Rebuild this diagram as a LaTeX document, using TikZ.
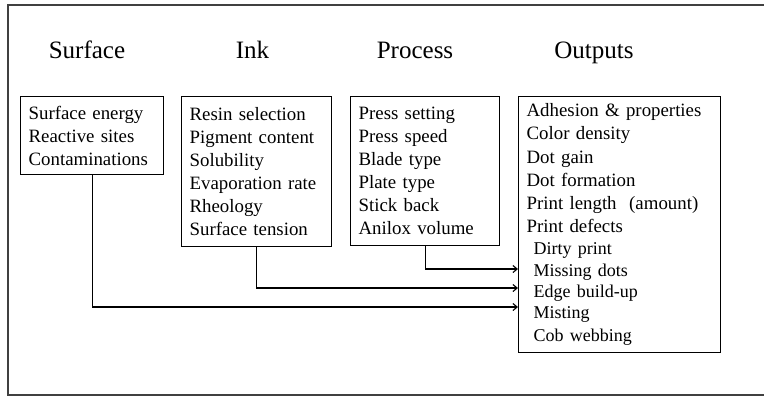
\documentclass[tikz,border=0pt]{standalone}
\usepackage{fontspec}
\setmainfont{Liberation Serif}
\usepackage{tikz}
\usetikzlibrary{arrows.meta}

\begin{document}
\begin{tikzpicture}[x=0.025cm, y=-0.025cm,
  head/.style={font=\fontsize{17.8}{20}\selectfont, anchor=base},
  listbox/.style={draw, line width=0.9pt, anchor=north west, align=left, inner xsep=0.2cm, font=\fontsize{13.4}{16.4}\selectfont},
  feed/.style={line width=0.8pt, -{Straight Barb[length=3pt,width=5pt]}}]

\useasboundingbox (0,0) rectangle (764,396);
\draw[color=black!75, line width=1pt] (8,5) rectangle (790,395);

\node[head] (hsurf) at (87,58) {Surface};
\node[head] (hink) at (252.5,58) {Ink};
\node[head] (hproc) at (415,58) {Process};
\node[head] (hout) at (594,58) {Outputs};


\node[listbox, text width=3.175cm, minimum height=1.95cm] (surf) at (20,96)
  {Surface energy\\ Reactive sites\\ Contaminations};

\node[listbox, text width=3.35cm, minimum height=3.75cm] (ink) at (181,96)
  {Resin selection\\ Pigment content\\ Solubility\\ Evaporation rate\\ Rheology\\ Surface tension};

\node[listbox, text width=3.325cm, minimum height=3.725cm] (proc) at (350,96)
  {Press setting\\ Press speed\\ Blade type\\ Plate type\\ Stick back\\ Anilox volume};

\node[listbox, text width=4.65cm, minimum height=6.4cm] (outb) at (518,96)
  {Adhesion \& properties\\ Color density\\ Dot gain\\ Dot formation\\ Print length\ \ (amount)\\ Print defects\\[1pt]
   \fontsize{12.8}{15.1}\selectfont\hspace*{5pt}Dirty print\\ \hspace*{5pt}Missing dots\\ \hspace*{5pt}Edge build-up\\ \hspace*{5pt}Misting\\ \hspace*{5pt}Cob webbing};


\coordinate (inproc) at (518,269);
\coordinate (inink) at (518,288);
\coordinate (insurf) at (518,307);

\draw[feed] (proc.south) |- (inproc);
\draw[feed] (ink.south) |- (inink);
\draw[feed] (surf.south) |- (insurf);

\end{tikzpicture}
\end{document}
